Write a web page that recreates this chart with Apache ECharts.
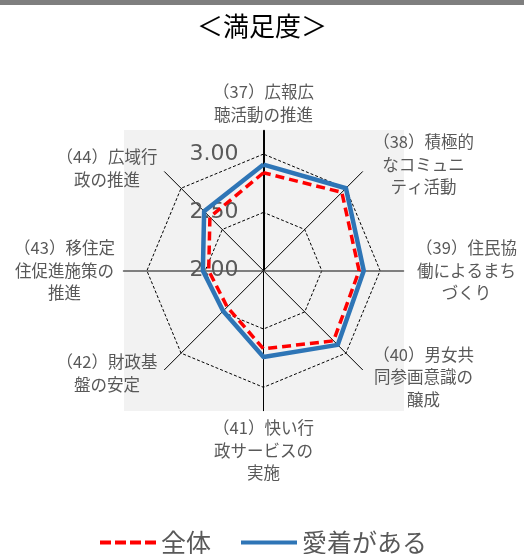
<!DOCTYPE html>
<html>
<head>
<meta charset="utf-8">
<script src="https://cdn.jsdelivr.net/npm/echarts@6/dist/echarts.min.js"></script>
<style>
  html, body { margin: 0; padding: 0; background: #fff; }
  #chart { width: 524px; height: 554px; }
</style>
</head>
<body>
<div id="chart"></div>
<script>
// indicator names (clockwise from the top, as in the picture)
var categories = [
  "（37）広報広\n聴活動の推進",
  "（38）積極的\nなコミュニ\nティ活動",
  "（39）住民協\n働によるまち\nづくり",
  "（40）男女共\n同参画意識の\n醸成",
  "（41）快い行\n政サービスの\n実施",
  "（42）財政基\n盤の安定",
  "（43）移住定\n住促進施策の\n推進",
  "（44）広域行\n政の推進"
];
var zentai = [2.84, 2.95, 2.82, 2.85, 2.67, 2.44, 2.47, 2.65];
var aichaku = [2.91, 3.0, 2.86, 2.9, 2.74, 2.49, 2.52, 2.72];
var ringTicks = [2.0, 2.5, 3.0];

// echarts radar goes counterclockwise, so reorder
var order = [0, 7, 6, 5, 4, 3, 2, 1];
var nameGaps = [5, 10, 9, 10, 6, 5, 5, 5];

var font = '"Noto Sans CJK JP", sans-serif';
var cx = 263.5, cy = 270.7;

var chartDom = document.getElementById("chart");
var myChart = echarts.init(chartDom);

var outerIndicator = order.map(function (i) {
  var ind = { name: categories[i], min: 0, max: 1, nameGap: nameGaps[i] };
  if (i === 0) ind.axisLine = { lineStyle: { color: "#000", width: 2 } };
  if (i === 2 || i === 6) ind.axisLine = { lineStyle: { color: "#595959", width: 1.5 } };
  return ind;
});

var innerIndicator = order.map(function (i) {
  var ind = { name: "", min: ringTicks[0], max: ringTicks[ringTicks.length - 1] };
  if (i === 0) ind.axisLabel = { show: true };
  return ind;
});

var dashIcon = "path://M0,0h11v4h-11z M15,0h11v4h-11z M30,0h11v4h-11z M45,0h11v4h-11z";

var option = {
  animation: false,
  graphic: [
    { type: "rect", shape: { x: 0, y: 0, width: 524, height: 5 }, style: { fill: "#7f7f7f" } }
  ],
  title: {
    text: "＜満足度＞",
    left: "center",
    top: 8,
    textStyle: { fontSize: 26, fontWeight: "normal", color: "#000", fontFamily: font }
  },
  legend: {
    data: [
      { name: "全体", icon: dashIcon },
      { name: "愛着がある", icon: "rect" }
    ],
    left: 95,
    top: 525,
    itemWidth: 56,
    itemHeight: 4,
    itemGap: 30,
    itemStyle: { borderWidth: 0 },
    textStyle: { fontSize: 25, color: "#595959", fontFamily: font }
  },
  grid: {
    left: 124, top: 130, width: 280, height: 281,
    show: true, backgroundColor: "#f2f2f2", borderWidth: 0, z: -1
  },
  xAxis: { type: "value", show: false },
  yAxis: { type: "value", show: false },
  radar: [
    {
      // spokes + names
      center: [cx, cy],
      radius: 140,
      shape: "polygon",
      indicator: outerIndicator,
      splitNumber: 1,
      splitLine: { show: false },
      splitArea: { show: false },
      axisTick: { show: false },
      axisLine: { lineStyle: { color: "#000", width: 1 } },
      axisName: {
        formatter: function (name) {
          return name.split("\n").map(function (s) { return "{a|" + s + "}"; }).join("\n");
        },
        rich: {
          a: { width: 108, align: "center", fontSize: 16.5, lineHeight: 22.5, color: "#595959", fontFamily: font }
        }
      }
    },
    {
      // value rings + data
      center: [cx, cy],
      radius: 116.6,
      shape: "polygon",
      indicator: innerIndicator,
      splitNumber: ringTicks.length - 1,
      splitLine: { lineStyle: { color: "#000", width: 1, type: [3, 2] } },
      splitArea: { show: false },
      axisTick: { show: false },
      axisLine: { show: false },
      axisName: { show: false },
      axisLabel: {
        show: false,
        margin: 25,
        color: "#595959",
        fontSize: 22,
        fontFamily: "DejaVu Sans",
        formatter: function (v) { return Number(v).toFixed(2); }
      }
    }
  ],
  series: [
    {
      name: "愛着がある",
      type: "radar",
      radarIndex: 1,
      symbol: "none",
      itemStyle: { color: "#2e75b6" },
      lineStyle: { color: "#2e75b6", width: 4.5 },
      data: [{ name: "愛着がある", value: order.map(function (i) { return aichaku[i]; }) }]
    },
    {
      name: "全体",
      type: "radar",
      radarIndex: 1,
      symbol: "none",
      itemStyle: { color: "#ff0000" },
      lineStyle: { color: "#ff0000", width: 3.5, type: [9, 5] },
      data: [{ name: "全体", value: order.map(function (i) { return zentai[i]; }) }]
    }
  ]
};

option && myChart.setOption(option);
</script>
</body>
</html>
